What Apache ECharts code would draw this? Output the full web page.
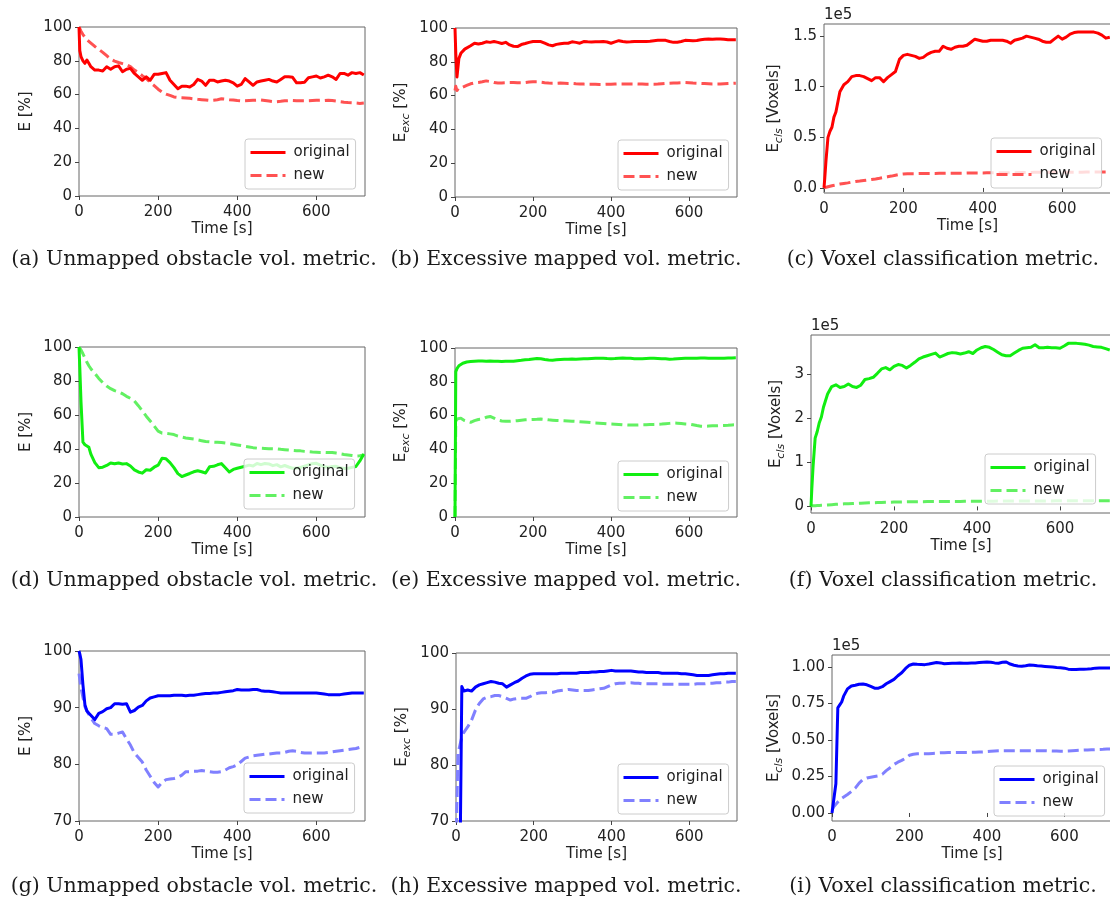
<!DOCTYPE html>
<html>
<head>
<meta charset="utf-8">
<script src="https://cdn.jsdelivr.net/npm/echarts@6/dist/echarts.min.js"></script>
<style>
  html, body { margin: 0; background: #fff; }
  #chart { width: 1110px; height: 907px; }
</style>
</head>
<body>
<div id="chart"></div>
<script>
// sample times [s]
const T = [0, 2, 5, 10, 15, 20, 25, 30,
  40, 50, 60, 70, 80, 90, 100, 110, 120, 130,
  140, 150, 160, 170, 180, 190, 200, 210, 220, 230,
  240, 250, 260, 270, 280, 290, 300, 310, 320, 330,
  340, 350, 360, 370, 380, 390, 400, 410, 420, 430,
  440, 450, 460, 470, 480, 490, 500, 510, 520, 530,
  540, 550, 560, 570, 580, 590, 600, 610, 620, 630,
  640, 650, 660, 670, 680, 690, 700, 710, 720]

const xTicks = [0, 200, 400, 600]

// (a) unmapped obstacle vol., E [%]
const aOrig = [100, 86, 82.5, 80, 78.5, 80.5, 78.5, 76.5,
  74.5, 74.5, 74, 76.5, 75, 76.5, 77, 73.5, 75, 75.5,
  72.5, 70.5, 68.5, 70.5, 68.5, 72, 72, 72.5, 73, 68.5,
  66, 63.5, 65, 65, 64.5, 66, 69, 68, 65.5, 68.5,
  68.5, 67.5, 68, 68.5, 68, 67, 65, 66, 69.5, 67.5,
  65.5, 67.5, 68, 68.5, 69, 68, 67.5, 69, 70.5, 70.5,
  70.2, 67, 67, 67.3, 70, 70.5, 71, 69.8, 70.5, 71.5,
  70.5, 69, 72.5, 72.5, 71.5, 73, 72.5, 73, 71.6]
const aNew = [100, 99, 97.5, 95.5, 94, 92.5, 91.5, 90.5,
  88.5, 86.8, 85, 83, 81, 79.8, 79, 78.3, 77.6, 76.5,
  74.5, 73, 71.2, 69.5, 67.2, 65.3, 63.2, 61.5, 60.3, 59.5,
  58.6, 58.3, 58.2, 58, 57.8, 57.5, 57.2, 57, 56.8, 56.5,
  56.7, 57, 57.5, 57.3, 57, 56.8, 56.5, 56.3, 56.4, 56.5,
  56.6, 56.7, 56.8, 56.5, 56.2, 55.9, 55.8, 56, 56.3, 56.4,
  56.5, 56.4, 56.3, 56.3, 56.4, 56.5, 56.6, 56.7, 56.5, 56.7,
  56.5, 56.2, 55.8, 55.5, 55.3, 55.2, 55, 54.8, 55]

// (b) excessive mapped vol., E_exc [%]
const bOrig = [100, 85, 71, 82, 85, 86, 87.5, 88,
  89.5, 91, 90.5, 91, 91.8, 91.5, 92, 91.5, 90.8, 91.5,
  90, 89.2, 89, 90.2, 90.8, 91.5, 92, 92, 92, 91,
  90, 89.5, 90.3, 90.7, 91, 91, 91.8, 91.5, 91, 92,
  91.8, 91.7, 91.8, 91.8, 92, 91.7, 91, 91.8, 92.5, 92,
  91.7, 91.8, 92, 92, 92, 92, 92.2, 92.5, 92.7, 92.8,
  92.7, 92, 91.5, 91.6, 92, 92.7, 92.6, 92.5, 92.6, 93,
  93.3, 93.5, 93.3, 93.5, 93.5, 93.3, 93, 93, 93]
const bNew = [63, 65.5, 63, 64.5, 63.5, 65, 65.5, 66,
  67, 67.5, 67.8, 68.2, 68.7, 68.3, 67.7, 67.5, 67.5, 67.6,
  67.7, 67.7, 67.6, 67.6, 67.7, 68, 68.2, 68.2, 67.9, 67.6,
  67.4, 67.3, 67.3, 67.4, 67.3, 67.2, 67.2, 67, 66.9, 66.8,
  66.7, 66.7, 66.7, 66.6, 66.6, 66.7, 66.7, 66.8, 66.9, 66.9,
  66.9, 66.9, 66.9, 66.8, 66.8, 66.7, 66.7, 66.7, 66.8, 67,
  67.2, 67.3, 67.4, 67.5, 67.6, 67.7, 67.6, 67.4, 67.3, 67.2,
  67.1, 67, 66.9, 66.9, 66.9, 67, 67.1, 67.2, 67.3]

// (c) voxel classification, E_cls [1e5 voxels]
const cOrig = [0, 0.1, 0.27, 0.5, 0.56, 0.6, 0.7, 0.75,
  0.95, 1.02, 1.05, 1.1, 1.11, 1.11, 1.1, 1.08, 1.06, 1.09,
  1.09, 1.05, 1.09, 1.12, 1.15, 1.27, 1.31, 1.32, 1.31, 1.3,
  1.28, 1.29, 1.32, 1.34, 1.35, 1.35, 1.4, 1.38, 1.37, 1.39,
  1.4, 1.4, 1.41, 1.44, 1.47, 1.46, 1.45, 1.45, 1.46, 1.46,
  1.46, 1.46, 1.45, 1.43, 1.46, 1.47, 1.48, 1.5, 1.49, 1.48,
  1.47, 1.45, 1.44, 1.44, 1.47, 1.5, 1.47, 1.49, 1.52, 1.535,
  1.54, 1.54, 1.54, 1.54, 1.54, 1.53, 1.51, 1.48, 1.49]
const cNew = [0, 0.003, 0.007, 0.012, 0.017, 0.022, 0.026, 0.03,
  0.038, 0.044, 0.05, 0.058, 0.064, 0.068, 0.073, 0.078, 0.083, 0.088,
  0.095, 0.103, 0.11, 0.117, 0.126, 0.134, 0.138, 0.14, 0.141, 0.141,
  0.142, 0.142, 0.143, 0.143, 0.143, 0.144, 0.144, 0.145, 0.145, 0.145,
  0.146, 0.146, 0.147, 0.147, 0.148, 0.148, 0.148, 0.149, 0.149, 0.15,
  0.15, 0.15, 0.15, 0.151, 0.151, 0.152, 0.152, 0.153, 0.153, 0.154,
  0.154, 0.155, 0.155, 0.155, 0.155, 0.155, 0.155, 0.156, 0.156, 0.156,
  0.156, 0.156, 0.157, 0.157, 0.157, 0.157, 0.158, 0.158, 0.158]

// (d)
const dOrig = [100, 88, 68, 44, 42.5, 42.3, 41, 37,
  32, 29, 29.3, 30.3, 31.8, 31.3, 31.8, 31.2, 31.4, 30,
  27.7, 26.5, 25.8, 27.8, 27.5, 29.3, 30.5, 34.5, 34.2, 32,
  29, 25.5, 23.8, 24.7, 25.6, 26.6, 27.2, 26.6, 25.9, 29.5,
  29.8, 30.7, 31.4, 29, 26.5, 28, 28.7, 29.3, 29.8, 30.5,
  30, 31.5, 30.8, 31.5, 31.2, 30.2, 30.8, 29.5, 30.3, 29.4,
  28.7, 28.8, 29.1, 29.9, 30.7, 31.4, 31.6, 30.5, 29.5, 29.2,
  29.7, 29.8, 29, 28.6, 28.7, 29.2, 29.7, 33, 37]
const dNew = [100, 99.3, 98.3, 96, 93.5, 91, 89, 87.2,
  84.5, 81.5, 79, 77, 75.5, 74.3, 73.5, 72.5, 71, 69.8,
  68.2, 65.5, 62.5, 59.3, 56.5, 53.5, 50.5, 49.3, 49.2, 48.9,
  48.5, 47.6, 47, 46.5, 46.2, 45.9, 45.4, 44.9, 44.4, 44.2,
  44, 43.9, 43.8, 43.5, 43.2, 42.8, 42.4, 42, 41.6, 41.2,
  40.8, 40.5, 40.4, 40.3, 40.2, 40.2, 40.1, 39.8, 39.6, 39.4,
  39.2, 39, 38.9, 38.6, 38.4, 38.2, 38.1, 38, 38, 37.9,
  37.9, 37.6, 37.2, 36.8, 36.5, 36.2, 35.9, 36, 36.5]

// (e)
const eOrig = [0, 86, 87.8, 89.5, 90.5, 91, 91.4, 91.7,
  92, 92.2, 92.3, 92.3, 92.2, 92.3, 92.2, 92.1, 92, 92.1,
  92.2, 92.2, 92.5, 92.7, 93, 93.2, 93.5, 93.8, 93.6, 93.2,
  92.9, 92.8, 93, 93.2, 93.3, 93.4, 93.5, 93.4, 93.5, 93.6,
  93.7, 93.8, 93.9, 94, 94, 93.8, 93.7, 93.8, 94, 94.1,
  94, 93.9, 93.7, 93.6, 93.7, 93.8, 93.9, 93.9, 93.8, 93.7,
  93.6, 93.4, 93.5, 93.7, 93.8, 93.9, 93.9, 93.9, 94, 94.1,
  94.1, 94, 93.9, 93.9, 94, 94, 94.1, 94.1, 94.2]
const eNew = [0, 56, 58, 57, 58.5, 57.8, 57, 56.6,
  56, 57, 57.7, 58, 59, 59.5, 58.5, 57.3, 56.8, 56.6,
  56.6, 56.8, 57, 57.3, 57.5, 57.6, 57.7, 57.8, 58, 57.8,
  57.5, 57.3, 57.1, 57, 56.9, 56.8, 56.7, 56.6, 56.4, 56.2,
  56, 55.8, 55.6, 55.5, 55.3, 55.1, 55, 54.9, 54.8, 54.6,
  54.5, 54.4, 54.4, 54.5, 54.6, 54.6, 54.7, 54.8, 54.9, 55,
  55.2, 55.4, 55.6, 55.5, 55.3, 55.1, 55, 54.6, 54.1, 53.7,
  53.6, 53.8, 54, 54, 54.1, 54.2, 54.3, 54.5, 54.6]

// (f)
const fOrig = [0, 0.4, 0.91, 1.55, 1.7, 1.9, 2.03, 2.25,
  2.55, 2.72, 2.76, 2.7, 2.72, 2.78, 2.72, 2.7, 2.75, 2.88,
  2.9, 2.93, 3.02, 3.12, 3.15, 3.1, 3.18, 3.22, 3.2, 3.14,
  3.2, 3.27, 3.35, 3.39, 3.42, 3.45, 3.48, 3.39, 3.43, 3.47,
  3.49, 3.48, 3.46, 3.48, 3.51, 3.47, 3.55, 3.6, 3.63, 3.61,
  3.56, 3.5, 3.44, 3.42, 3.42, 3.48, 3.54, 3.59, 3.6, 3.61,
  3.67, 3.6, 3.6, 3.61, 3.6, 3.6, 3.59, 3.64, 3.7, 3.7,
  3.7, 3.69, 3.68, 3.66, 3.63, 3.62, 3.61, 3.58, 3.55]
const fNew = [0.01, 0.012, 0.014, 0.017, 0.019, 0.021, 0.024, 0.027,
  0.033, 0.039, 0.046, 0.052, 0.058, 0.062, 0.066, 0.07, 0.074, 0.077,
  0.08, 0.083, 0.086, 0.089, 0.092, 0.095, 0.098, 0.1, 0.102, 0.104,
  0.105, 0.106, 0.107, 0.108, 0.109, 0.11, 0.11, 0.111, 0.111, 0.112,
  0.112, 0.113, 0.113, 0.114, 0.115, 0.116, 0.117, 0.118, 0.118, 0.119,
  0.119, 0.12, 0.12, 0.121, 0.121, 0.122, 0.122, 0.123, 0.123, 0.124,
  0.124, 0.124, 0.125, 0.125, 0.125, 0.126, 0.126, 0.126, 0.127, 0.127,
  0.127, 0.128, 0.128, 0.128, 0.129, 0.129, 0.129, 0.13, 0.13]

// (g)
const gOrig = [100, 99.5, 98.5, 94, 90.5, 89.4, 89, 88.8,
  87.9, 89, 89.3, 89.8, 90, 90.7, 90.7, 90.6, 90.7, 89.2,
  89.5, 90.1, 90.4, 91.2, 91.7, 91.9, 92.1, 92.1, 92.1, 92.1,
  92.2, 92.2, 92.2, 92.1, 92.2, 92.2, 92.3, 92.4, 92.5, 92.5,
  92.6, 92.6, 92.7, 92.8, 92.9, 93, 93.2, 93.1, 93.1, 93.1,
  93.2, 93.2, 93, 92.9, 92.9, 92.8, 92.7, 92.6, 92.6, 92.6,
  92.6, 92.6, 92.6, 92.6, 92.6, 92.6, 92.6, 92.5, 92.4, 92.3,
  92.3, 92.3, 92.3, 92.4, 92.5, 92.6, 92.6, 92.6, 92.6]
const gNew = [96, 95, 93.5, 91.8, 90.2, 89.4, 88.8, 88.2,
  87.2, 86.8, 86.5, 86.3, 85.3, 85.3, 85.5, 85.7, 84.5, 83.4,
  82, 81.2, 80.4, 79, 77.9, 76.8, 76, 76.8, 77.3, 77.4,
  77.5, 77.7, 78.1, 78.7, 78.7, 78.8, 78.8, 78.9, 78.8, 78.7,
  78.6, 78.6, 78.7, 79, 79.4, 79.6, 79.9, 80.5, 81.1, 81.3,
  81.5, 81.6, 81.7, 81.8, 81.8, 81.9, 82, 82, 82.1, 82.3,
  82.4, 82.3, 82.1, 82, 82, 82, 82, 82, 82, 82.1,
  82.2, 82.3, 82.4, 82.5, 82.6, 82.7, 82.8, 83, 83.1]

// (h)
const hOrig = [40, 40, 40, 60, 94, 93.2, 93.3, 93.4,
  93.2, 93.9, 94.3, 94.5, 94.7, 94.9, 94.8, 94.6, 94.5, 93.9,
  94.3, 94.7, 95, 95.5, 95.9, 96.2, 96.3, 96.3, 96.3, 96.3,
  96.3, 96.3, 96.3, 96.4, 96.4, 96.4, 96.4, 96.4, 96.5, 96.5,
  96.5, 96.6, 96.6, 96.7, 96.7, 96.8, 96.9, 96.8, 96.8, 96.8,
  96.8, 96.8, 96.7, 96.6, 96.6, 96.5, 96.5, 96.5, 96.5, 96.4,
  96.4, 96.4, 96.4, 96.4, 96.3, 96.3, 96.2, 96.1, 96, 96,
  96, 96, 96.1, 96.2, 96.3, 96.3, 96.4, 96.4, 96.4]
const hNew = [60, 72, 82, 83.5, 85, 85.8, 86.3, 86.8,
  88, 89.8, 91, 91.8, 92.1, 92.2, 92.4, 92.4, 92.2, 91.9,
  91.6, 91.8, 91.9, 91.9, 91.9, 92.2, 92.6, 92.8, 92.9, 92.9,
  93, 93, 93.2, 93.3, 93.4, 93.5, 93.4, 93.3, 93.3, 93.3,
  93.3, 93.4, 93.5, 93.6, 93.7, 94, 94.3, 94.5, 94.6, 94.6,
  94.7, 94.7, 94.6, 94.6, 94.5, 94.5, 94.5, 94.5, 94.5, 94.4,
  94.4, 94.4, 94.4, 94.4, 94.4, 94.4, 94.4, 94.4, 94.5, 94.5,
  94.5, 94.6, 94.6, 94.7, 94.7, 94.8, 94.8, 94.9, 94.9]

// (i)
const iOrig = [0, 0, 0.005, 0.2, 0.72, 0.74, 0.76, 0.8,
  0.85, 0.87, 0.875, 0.882, 0.883, 0.878, 0.867, 0.855, 0.855, 0.865,
  0.885, 0.9, 0.915, 0.94, 0.96, 0.99, 1.012, 1.02, 1.018, 1.017,
  1.016, 1.02, 1.025, 1.03, 1.028, 1.022, 1.024, 1.025, 1.026, 1.027,
  1.026, 1.026, 1.027, 1.028, 1.03, 1.032, 1.034, 1.032, 1.028, 1.026,
  1.032, 1.034, 1.02, 1.012, 1.007, 1.005, 1.008, 1.013, 1.012, 1.008,
  1.006, 1.004, 1.002, 1.0, 0.997, 0.995, 0.992, 0.985, 0.982, 0.982,
  0.984, 0.985, 0.986, 0.988, 0.992, 0.993, 0.993, 0.993, 0.993]
const iNew = [0.02, 0.03, 0.045, 0.06, 0.075, 0.088, 0.1, 0.108,
  0.127, 0.147, 0.17, 0.205, 0.23, 0.24, 0.245, 0.25, 0.255, 0.265,
  0.29, 0.31, 0.332, 0.348, 0.36, 0.375, 0.395, 0.402, 0.405, 0.405,
  0.405, 0.406, 0.408, 0.41, 0.412, 0.413, 0.414, 0.414, 0.414, 0.414,
  0.414, 0.414, 0.415, 0.416, 0.417, 0.418, 0.42, 0.422, 0.424, 0.426,
  0.427, 0.427, 0.427, 0.427, 0.427, 0.427, 0.427, 0.427, 0.427, 0.427,
  0.427, 0.427, 0.426, 0.425, 0.424, 0.423, 0.423, 0.424, 0.426, 0.428,
  0.43, 0.431, 0.432, 0.433, 0.434, 0.435, 0.436, 0.438, 0.439]

const pctTicks = [0, 20, 40, 60, 80, 100]
const highTicks = [70, 80, 90, 100]
const clsTicksC = [0, 0.5, 1, 1.5]
const clsTicksF = [0, 1, 2, 3]
const clsTicksI = [0, 0.25, 0.5, 0.75, 1]

const captions = [
  '(a) Unmapped obstacle vol. metric.', '(b) Excessive mapped vol. metric.', '(c) Voxel classification metric.',
  '(d) Unmapped obstacle vol. metric.', '(e) Excessive mapped vol. metric.', '(f) Voxel classification metric.',
  '(g) Unmapped obstacle vol. metric.', '(h) Excessive mapped vol. metric.', '(i) Voxel classification metric.'
]

const RED = ['#ff0000', '#ff5252']
const GREEN = ['#11ee11', '#62f062']
const BLUE = ['#0000ff', '#8080ff']

const NAME_E = '{n|E [%]}'
const NAME_EXC = '{n|E}{s|exc}{n| [%]}'
const NAME_CLS = '{n|E}{s|cls}{n| [Voxels]}'

// box: left, top, width, height (px); leg: legend box left, top
const panels = [
  { key: 'a', box: [79, 27, 286, 169], y: [0, 100], ticks: pctTicks, dec: 0, name: NAME_E, gap: 42, col: RED, leg: [245, 139], data: [aOrig, aNew] },
  { key: 'b', box: [455, 28, 282, 169], y: [0, 100], ticks: pctTicks, dec: 0, name: NAME_EXC, gap: 43, col: RED, leg: [618, 140], data: [bOrig, bNew] },
  { key: 'c', box: [824, 24, 287, 169], y: [-0.05, 1.62], ticks: clsTicksC, dec: 1, name: NAME_CLS, gap: 39, col: RED, leg: [991, 138], data: [cOrig, cNew], sci: true },
  { key: 'd', box: [79, 347, 286, 170], y: [0, 100], ticks: pctTicks, dec: 0, name: NAME_E, gap: 42, col: GREEN, leg: [244, 459], data: [dOrig, dNew] },
  { key: 'e', box: [455, 348, 282, 169], y: [0, 100], ticks: pctTicks, dec: 0, name: NAME_EXC, gap: 43, col: GREEN, leg: [618, 461], data: [eOrig, eNew] },
  { key: 'f', box: [811, 335, 300, 178], y: [-0.15, 3.89], ticks: clsTicksF, dec: 0, name: NAME_CLS, gap: 24, col: GREEN, leg: [985, 454], data: [fOrig, fNew], sci: true },
  { key: 'g', box: [79, 651, 286, 170], y: [70, 100], ticks: highTicks, dec: 0, name: NAME_E, gap: 42, col: BLUE, leg: [244, 763], data: [gOrig, gNew] },
  { key: 'h', box: [456, 653, 281, 168], y: [70, 100], ticks: highTicks, dec: 0, name: NAME_EXC, gap: 43, col: BLUE, leg: [618, 764], data: [hOrig, hNew] },
  { key: 'i', box: [832, 655, 280, 166], y: [-0.055, 1.082], ticks: clsTicksI, dec: 2, name: NAME_CLS, gap: 47, col: BLUE, leg: [994, 766], data: [iOrig, iNew], sci: true }
]

const captionPos = [[194, 260], [566, 260], [943, 260], [194, 581], [566, 581], [943, 581], [194, 887], [566, 887], [943, 887]]

const FONT = 'DejaVu Sans'
const INK = '#222'
const FRAME = '#666'

const chart = echarts.init(document.getElementById('chart'), null, { renderer: 'canvas' })

const grid = [], xAxis = [], yAxis = [], series = [], legend = [], graphic = []

panels.forEach((p, i) => {
  grid.push({
    left: p.box[0], top: p.box[1], width: p.box[2], height: p.box[3],
    show: true, borderColor: FRAME, borderWidth: 1, backgroundColor: 'transparent',
    containLabel: false, outerBoundsMode: 'none'
  })
  xAxis.push({
    type: 'value', gridIndex: i, min: 0, max: 723,
    name: 'Time [s]', nameLocation: 'middle', nameGap: 26,
    nameTextStyle: { fontFamily: FONT, fontSize: 15, color: INK },
    axisLine: { show: false },
    axisTick: { show: true, inside: false, length: 4, lineStyle: { color: '#444' }, customValues: xTicks },
    axisLabel: { customValues: xTicks, margin: 9, fontFamily: FONT, fontSize: 15, color: INK },
    splitLine: { show: false }
  })
  yAxis.push({
    type: 'value', gridIndex: i, min: p.y[0], max: p.y[1],
    name: p.name, nameLocation: 'middle', nameRotate: 90, nameGap: p.gap,
    nameTextStyle: {
      fontFamily: FONT, fontSize: 15, color: INK,
      rich: {
        n: { fontFamily: FONT, fontSize: 15, color: INK, lineHeight: 22 },
        s: { fontFamily: FONT, fontSize: 11, fontStyle: 'italic', color: INK, lineHeight: 12, verticalAlign: 'bottom' }
      }
    },
    axisLine: { show: false },
    axisTick: { show: true, inside: false, length: 4, lineStyle: { color: '#444' }, customValues: p.ticks },
    axisLabel: {
      customValues: p.ticks, margin: 7, fontFamily: FONT, fontSize: 15, color: INK,
      formatter: v => p.dec ? Number(v).toFixed(p.dec) : String(Math.round(v))
    },
    splitLine: { show: false }
  })
  const names = ['original#' + p.key, 'new#' + p.key]
  p.data.forEach((vals, k) => {
    series.push({
      type: 'line', name: names[k], xAxisIndex: i, yAxisIndex: i,
      data: T.map((t, j) => [t, vals[j]]),
      symbol: 'none', showSymbol: false, clip: true, z: k === 0 ? 3 : 2,
      color: p.col[k],
      lineStyle: { color: p.col[k], width: 3, type: k === 0 ? 'solid' : [11, 5], join: 'round' },
      itemStyle: { color: p.col[k] },
      emphasis: { disabled: true }
    })
  })
  legend.push({
    data: names, left: p.leg[0], top: p.leg[1], orient: 'vertical',
    backgroundColor: 'rgba(255,255,255,0.8)', borderColor: '#cccccc', borderWidth: 1, borderRadius: 3,
    padding: [6, 6, 6, 4], itemWidth: 35, itemHeight: 14, itemGap: 8,
    itemStyle: { opacity: 0 },
    lineStyle: { width: 3 },
    textStyle: { fontFamily: FONT, fontSize: 15, color: INK, padding: [0, 0, 0, 3] },
    formatter: n => n.split('#')[0],
    selectedMode: false
  })
  if (p.sci) {
    graphic.push({
      type: 'text', left: p.box[0], top: p.box[1] - 16,
      style: { text: '1e5', font: '15px "DejaVu Sans"', fill: INK }
    })
  }
  graphic.push({
    type: 'text', x: captionPos[i][0], y: captionPos[i][1],
    style: { text: captions[i], font: '20.5px "DejaVu Serif"', fill: '#1a1a1a', align: 'center', verticalAlign: 'middle' }
  })
})

chart.setOption({
  animation: false,
  backgroundColor: '#fff',
  grid, xAxis, yAxis, series, legend, graphic
})
</script>
</body>
</html>
